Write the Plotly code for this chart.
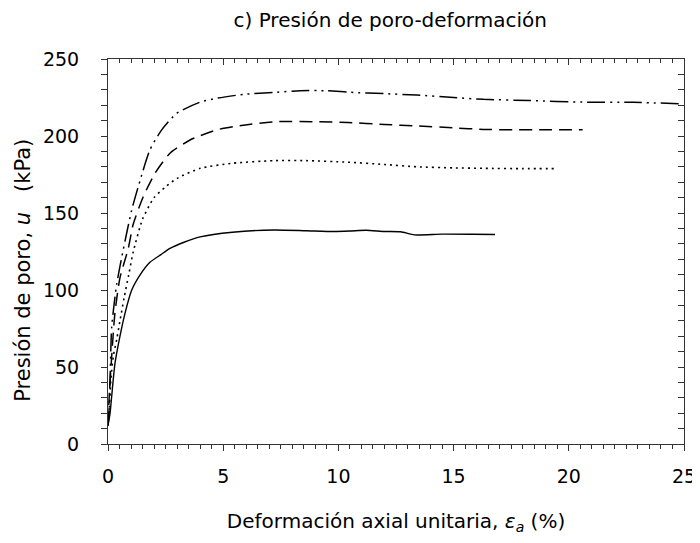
import plotly.graph_objects as go

# Axial strain (%) and pore pressure (kPa), four tests
strain_a = [0, 0.09, 0.16, 0.3, 0.52, 0.74, 1.03, 1.4, 1.82, 2.3, 2.69, 3.3, 4.0,
            5.4, 7.2, 8.6, 9.8, 10.5, 11.2, 12.0, 12.7, 13.3, 14.5, 15.8, 16.8]
pore_a = [12, 20, 31, 52, 70, 85, 100, 110, 118, 123, 127, 131, 134.5,
          137.5, 139, 138.5, 138, 138.3, 138.8, 138, 137.8, 135.8, 136.3, 136.2, 136]

strain_b = [0, 0.06, 0.12, 0.23, 0.38, 0.52, 0.7, 0.9, 1.1, 1.5, 2.0, 2.5, 3.0,
            4.0, 5.4, 7.2, 8.6, 10.4, 12.0, 13.4, 15.0, 16.3, 18.0, 19.5]
pore_b = [12, 24, 41, 57, 68, 80, 95, 110, 125, 146, 160, 167, 172.5,
          179, 182.3, 184, 184, 183, 181.5, 180, 179.3, 179, 178.8, 178.8]

strain_c = [0, 0.05, 0.16, 0.3, 0.52, 0.88, 1.1, 1.53, 2.04, 2.69, 3.56, 4.72,
            5.87, 7.3, 9.06, 10.4, 12.0, 13.4, 15.0, 16.3, 17.7, 19.0, 20.6]
pore_c = [12, 30, 57, 85, 108, 127, 143, 160.6, 175.8, 188.8, 197.4, 204,
          207, 209.3, 209.3, 208.8, 207.5, 206.5, 205.3, 204.3, 204, 204, 204]

strain_d = [0, 0.04, 0.09, 0.16, 0.38, 0.66, 1.03, 1.39, 1.82, 2.33, 2.98, 4.0,
            4.72, 5.87, 7.3, 8.33, 9.5, 10.5, 12.0, 13.4, 15.0, 16.3, 18.3, 20.6,
            22.8, 25]
pore_d = [12, 20, 42, 76, 104, 126, 152, 171, 191, 204, 214.7, 222,
          224.5, 227, 228.4, 229.4, 229.4, 228.4, 227.5, 226.6, 225, 223.8, 223, 222,
          221.9, 220.8]

x_ticks = [0, 5, 10, 15, 20, 25]
y_ticks = [0, 50, 100, 150, 200, 250]

FONT = "DejaVu Sans, sans-serif"
INK = "#000000"
AXIS = "#333333"

series = [
    (strain_a, pore_a, "solid", 1.4),
    (strain_b, pore_b, "2px,4px", 1.6),
    (strain_c, pore_c, "13px,7px", 1.5),
    (strain_d, pore_d, "18px,5px,2px,5px,2px,5px", 1.5),
]

fig = go.Figure()
for x, y, dash, w in series:
    fig.add_trace(
        go.Scatter(
            x=x,
            y=y,
            mode="lines",
            line=dict(color=INK, width=w, dash=dash, shape="spline", smoothing=0.6),
            showlegend=False,
            hoverinfo="skip",
        )
    )

# invisible trace so the mirrored top/right axes get drawn
fig.add_trace(go.Scatter(x=[0], y=[0], xaxis="x2", yaxis="y2", mode="markers",
                         marker=dict(opacity=0), showlegend=False, hoverinfo="skip"))

axis_common = dict(showgrid=False, zeroline=False, showline=True, linecolor=AXIS,
                   linewidth=1, tickcolor=AXIS, ticklen=6, tickwidth=1,
                   automargin=False)

# the page body adds an 8px margin, so the figure is 8px smaller than the window
fig.update_layout(
    width=692,
    height=535,
    paper_bgcolor="white",
    plot_bgcolor="white",
    margin=dict(l=100, r=16, t=51, b=99),
    font=dict(family=FONT, color=INK, size=19),
    title=dict(text="c) Presión de poro-deformación", x=0.49, xref="paper",
               xanchor="center", y=0.978, yanchor="middle",
               font=dict(family=FONT, size=20, color=INK)),
    xaxis=dict(
        range=[0, 25], tickvals=x_ticks, ticks="outside",
        minor=dict(dtick=0.5, ticks="outside", ticklen=4, tickcolor=AXIS),
        ticklabelstandoff=9,
        title=dict(text="Deformación axial unitaria, <i>ε<sub>a</sub></i> (%)",
                   standoff=28, font=dict(size=20)),
        **axis_common,
    ),
    yaxis=dict(
        range=[0, 250], tickvals=y_ticks, ticks="outside",
        minor=dict(dtick=10, ticks="outside", ticklen=6, tickcolor=AXIS),
        ticklabelstandoff=18,
        **axis_common,
    ),
    xaxis2=dict(
        overlaying="x", side="top", anchor="y2", range=[0, 25], ticks="inside",
        tickvals=x_ticks, showticklabels=False,
        minor=dict(dtick=0.5, ticks="inside", ticklen=4, tickcolor=AXIS),
        **axis_common,
    ),
    yaxis2=dict(
        overlaying="y", side="right", anchor="x2", range=[0, 250], ticks="inside",
        tickvals=y_ticks, showticklabels=False,
        minor=dict(dtick=10, ticks="inside", ticklen=6, tickcolor=AXIS),
        **axis_common,
    ),
)

# y-axis title as an annotation: it sits a bit below the plot's vertical centre
fig.add_annotation(
    text="Presión de poro, <i>u</i>&nbsp;&nbsp; (kPa)",
    textangle=-90,
    xref="paper", yref="paper",
    x=-0.148, y=0.452,
    xanchor="center", yanchor="middle",
    showarrow=False,
    font=dict(family=FONT, size=21, color=INK),
)

fig.write_html("out.html")
